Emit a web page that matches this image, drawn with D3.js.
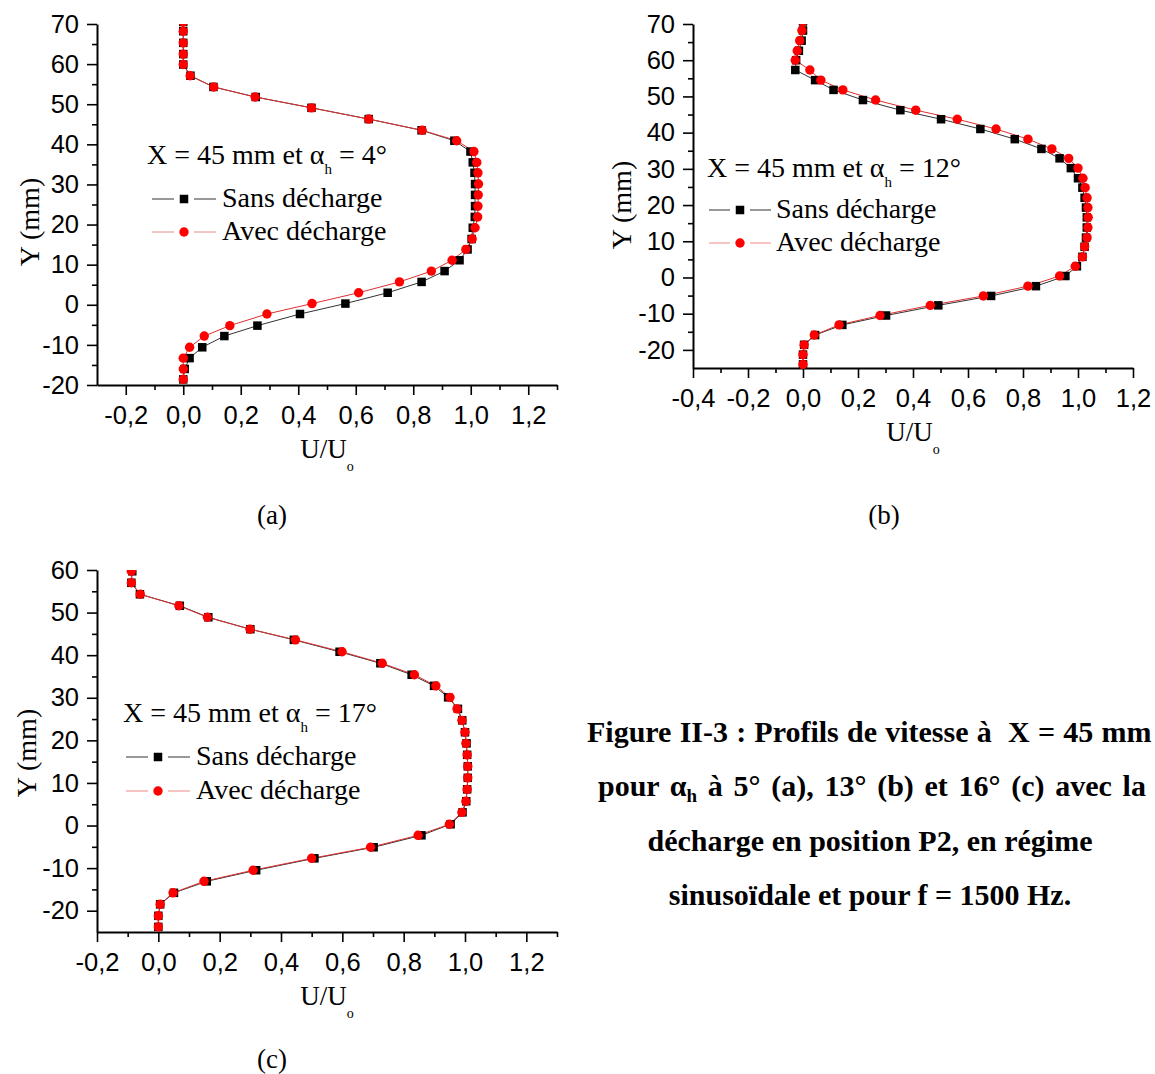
<!DOCTYPE html>
<html><head><meta charset="utf-8">
<script src="https://cdn.jsdelivr.net/npm/d3@7"></script>
<style>html,body{margin:0;padding:0;background:#fff;overflow:hidden}</style>
</head><body>
<svg id="chart" width="1155" height="1074"></svg>
<script>
// ---------- DATA ----------
// Panel (a) : alpha_h = 4°
const yA = [70.5, 68.2, 65.3, 62.5, 59.9, 57.1, 54.3, 51.8, 49.1, 46.3, 43.5, 40.9, 38.2, 35.5, 32.9, 30.1, 27.4, 24.6, 21.9, 19.2, 16.4, 13.8, 11.1, 8.4, 5.7, 3.0, 0.3, -2.3, -5.2, -7.8, -10.6, -13.3, -16.0, -18.6];
const sansA = [0, 0, 0, 0, 0, 0.025, 0.105, 0.252, 0.446, 0.645, 0.829, 0.943, 0.999, 1.007, 1.013, 1.015, 1.015, 1.015, 1.014, 1.007, 1.003, 0.989, 0.961, 0.909, 0.829, 0.711, 0.564, 0.406, 0.258, 0.143, 0.066, 0.022, 0.005, 0];
const avecA = [0, 0, 0, 0, 0, 0.024, 0.106, 0.25, 0.446, 0.645, 0.831, 0.951, 1.011, 1.021, 1.025, 1.027, 1.026, 1.025, 1.024, 1.015, 1.005, 0.983, 0.935, 0.863, 0.752, 0.61, 0.448, 0.291, 0.162, 0.073, 0.022, 0, 0, 0];

// Panel (b) : alpha_h = 12°
const yB = [70.7, 68.2, 65.4, 62.6, 60.0, 57.3, 54.5, 51.8, 49.0, 46.2, 43.7, 41.0, 38.2, 35.5, 32.9, 30.2, 27.4, 24.8, 22.0, 19.3, 16.6, 13.8, 11.0, 8.5, 5.7, 3.1, 0.4, -2.4, -5.1, -7.7, -10.5, -13.1, -15.9, -18.6, -21.3, -24.0];
const sansB = [0.0, 0.0, -0.005, -0.015, -0.025, -0.028, 0.044, 0.111, 0.218, 0.354, 0.502, 0.645, 0.77, 0.867, 0.933, 0.974, 1.0, 1.016, 1.024, 1.029, 1.032, 1.032, 1.029, 1.024, 1.016, 0.996, 0.954, 0.847, 0.684, 0.492, 0.302, 0.143, 0.044, 0.004, 0, 0];
const avecB = [0.0, -0.004, -0.012, -0.021, -0.028, 0.025, 0.065, 0.145, 0.264, 0.41, 0.561, 0.702, 0.818, 0.905, 0.966, 1.0, 1.018, 1.026, 1.033, 1.036, 1.037, 1.036, 1.033, 1.024, 1.016, 0.99, 0.933, 0.818, 0.656, 0.463, 0.28, 0.131, 0.041, 0.004, 0, 0];

// Panel (c) : alpha_h = 17°
const yC = [59.7, 57.0, 54.3, 51.6, 48.9, 46.1, 43.6, 40.8, 38.1, 35.4, 32.8, 30.1, 27.4, 24.7, 21.9, 19.3, 16.6, 13.9, 11.2, 8.5, 5.7, 3.1, 0.3, -2.3, -5.1, -7.7, -10.5, -13.1, -15.8, -18.5, -21.2, -23.8];
const sansC = [-0.085, -0.088, -0.06, 0.07, 0.163, 0.3, 0.442, 0.591, 0.724, 0.826, 0.899, 0.945, 0.977, 0.991, 1.0, 1.005, 1.007, 1.009, 1.009, 1.007, 1.004, 0.992, 0.953, 0.858, 0.702, 0.509, 0.319, 0.158, 0.051, 0.006, 0, 0];
const avecC = [-0.088, -0.088, -0.059, 0.067, 0.16, 0.299, 0.447, 0.599, 0.73, 0.835, 0.905, 0.951, 0.974, 0.99, 1.0, 1.003, 1.007, 1.009, 1.009, 1.007, 1.003, 0.99, 0.949, 0.847, 0.692, 0.5, 0.309, 0.149, 0.048, 0.006, 0, 0];

// Tick labels
const xTicksA = [-0.2, 0, 0.2, 0.4, 0.6, 0.8, 1.0, 1.2];
const xTicksB = [-0.4, -0.2, 0, 0.2, 0.4, 0.6, 0.8, 1.0, 1.2];
const xTicksC = [-0.2, 0, 0.2, 0.4, 0.6, 0.8, 1.0, 1.2];
const yTicksAB = [-20, -10, 0, 10, 20, 30, 40, 50, 60, 70];
const yTicksC = [-20, -10, 0, 10, 20, 30, 40, 50, 60];
const xMinorA = [-0.1, 0.1, 0.3, 0.5, 0.7, 0.9, 1.1, 1.3];
const xMinorB = [-0.3, -0.1, 0.1, 0.3, 0.5, 0.7, 0.9, 1.1];
const xMinorC = [-0.1, 0.1, 0.3, 0.5, 0.7, 0.9, 1.1, 1.3];
const yMinorAB = [-15, -5, 5, 15, 25, 35, 45, 55, 65];
const yMinorC = [-15, -5, 5, 15, 25, 35, 45, 55];

// Texts
const seriesNames = ["Sans décharge", "Avec décharge"];
const alphaValues = ["4°", "12°", "17°"];
const panelLabels = ["(a)", "(b)", "(c)"];
const captionLines = [
  ["Figure II-3 : Profils de vitesse à\u00A0 X = 45 mm"],
  ["pour ", "α", "h", " à 5° (a), 13° (b) et 16° (c) avec la"],
  ["décharge en position P2, en régime"],
  ["sinusoïdale et pour f = 1500 Hz."]
];

// ---------- DRAWING ----------
const svg = d3.select("#chart");
svg.append("rect").attr("width",1155).attr("height",1074).attr("fill","#fff");

const SERIF = "'Liberation Serif','Times New Roman',serif";
const SANS = "'Liberation Sans',Arial,sans-serif";

function fmtX(v){ if (Math.abs(v) < 1e-9) return "0,0"; return (v<0?"-":"") + Math.abs(v).toFixed(1).replace(".", ","); }
function fmtY(v){ return (v<0?"-":"") + Math.abs(v); }

const panels = [
  {Y:yA, sans:sansA, avec:avecA, alpha:alphaValues[0], label:panelLabels[0],
   xDom:[-0.3,1.3], yDom:[-20,70], xr:[97,557], yr:[385,24],
   xT:xTicksA, xM:xMinorA, yT:yTicksAB, yM:yMinorAB,
   leg:{x:147, ty:164, r1:199, r2:232, lx1:152, lx2:216, mx:184, tx:222},
   ylab:{x:29, y:222}, lab:{x:272, y:524}},
  {Y:yB, sans:sansB, avec:avecB, alpha:alphaValues[1], label:panelLabels[1],
   xDom:[-0.4,1.2], yDom:[-25,70], xr:[693,1133], yr:[368,24],
   xT:xTicksB, xM:xMinorB, yT:yTicksAB, yM:yMinorAB,
   leg:{x:707, ty:177, r1:210, r2:243, lx1:709, lx2:771, mx:740, tx:776},
   ylab:{x:621, y:205}, lab:{x:884, y:524}},
  {Y:yC, sans:sansC, avec:avecC, alpha:alphaValues[2], label:panelLabels[2],
   xDom:[-0.2,1.3], yDom:[-25,60], xr:[97,557], yr:[932,570],
   xT:xTicksC, xM:xMinorC, yT:yTicksC, yM:yMinorC,
   leg:{x:123, ty:722, r1:757, r2:791, lx1:126, lx2:190, mx:158, tx:196},
   ylab:{x:26, y:753}, lab:{x:272, y:1068}}
];

panels.forEach((p, i) => {
  const x = d3.scaleLinear().domain(p.xDom).range(p.xr);
  const y = d3.scaleLinear().domain(p.yDom).range(p.yr);
  const g = svg.append("g");
  const clipId = "clip" + i;
  svg.append("clipPath").attr("id", clipId).append("rect")
    .attr("x", p.xr[0] - 15).attr("y", p.yr[1])
    .attr("width", p.xr[1] - p.xr[0] + 30).attr("height", p.yr[0] - p.yr[1] + 12);

  // axes
  const xAxis = d3.axisBottom(x).tickValues(p.xT).tickFormat(fmtX).tickSize(10).tickSizeOuter(0).tickPadding(8);
  const xMinor = d3.axisBottom(x).tickValues(p.xM).tickFormat("").tickSize(5).tickSizeOuter(0);
  const yAxis = d3.axisLeft(y).tickValues(p.yT).tickFormat(fmtY).tickSize(10).tickSizeOuter(0).tickPadding(8);
  const yMinor = d3.axisLeft(y).tickValues(p.yM).tickFormat("").tickSize(5).tickSizeOuter(0);

  const gx = g.append("g").attr("transform", `translate(0,${p.yr[0]})`).call(xAxis);
  g.append("g").attr("transform", `translate(0,${p.yr[0]})`).call(xMinor).select(".domain").remove();
  const gy = g.append("g").attr("transform", `translate(${p.xr[0]},0)`).call(yAxis);
  g.append("g").attr("transform", `translate(${p.xr[0]},0)`).call(yMinor).select(".domain").remove();

  g.selectAll(".domain").attr("stroke", "#000").attr("stroke-width", 2);
  g.selectAll(".tick line").attr("stroke", "#000").attr("stroke-width", 1.6);
  gx.selectAll(".tick text").attr("font-family", SANS).attr("font-size", 25.5).attr("fill", "#000").attr("dy", "0.82em");
  gy.selectAll(".tick text").attr("font-family", SANS).attr("font-size", 25.5).attr("fill", "#000");

  // axis titles
  const xl = g.append("text").attr("x", (p.xr[0] + p.xr[1]) / 2).attr("y", p.yr[0] + 73)
    .attr("text-anchor", "middle").attr("font-family", SERIF).attr("font-size", 27).attr("fill", "#000");
  xl.append("tspan").text("U/U");
  xl.append("tspan").text("o").attr("font-size", 14).attr("dy", 13);

  g.append("text").attr("transform", `translate(${p.ylab.x},${p.ylab.y}) rotate(-90)`)
    .attr("text-anchor", "middle").attr("dy", "0.35em")
    .attr("font-family", SERIF).attr("font-size", 28).attr("fill", "#000").text("Y (mm)");

  // data
  const sansPts = p.Y.map((v, k) => ({y: v, u: p.sans[k]}));
  const avecPts = p.Y.map((v, k) => ({y: v, u: p.avec[k]}));
  const line = d3.line().x(d => x(d.u)).y(d => y(d.y));
  const dg = g.append("g").attr("clip-path", `url(#${clipId})`);
  dg.append("path").datum(sansPts).attr("d", line).attr("fill", "none").attr("stroke", "#333").attr("stroke-width", 1);
  dg.append("path").datum(avecPts).attr("d", line).attr("fill", "none").attr("stroke", "#e03030").attr("stroke-width", 1);
  const s = 8.5;
  dg.selectAll("rect.sq").data(sansPts).enter().append("rect")
    .attr("x", d => x(d.u) - s / 2).attr("y", d => y(d.y) - s / 2)
    .attr("width", s).attr("height", s).attr("fill", "#000");
  dg.selectAll("circle.ci").data(avecPts).enter().append("circle")
    .attr("cx", d => x(d.u)).attr("cy", d => y(d.y)).attr("r", 4.7).attr("fill", "#f00");

  // legend
  const L = p.leg;
  const t = g.append("text").attr("x", L.x).attr("y", L.ty).attr("font-family", SERIF).attr("font-size", 28).attr("fill", "#000");
  t.append("tspan").text("X = 45 mm et α");
  t.append("tspan").text("h").attr("font-size", 15).attr("dy", 10);
  t.append("tspan").text(" = " + p.alpha).attr("dy", -10);

  [[L.r1, "#333", seriesNames[0], "sq"], [L.r2, "#e88", seriesNames[1], "ci"]].forEach(([ry, col, name, m]) => {
    g.append("line").attr("x1", L.lx1).attr("x2", L.mx - 10).attr("y1", ry).attr("y2", ry).attr("stroke", col).attr("stroke-width", 1);
    g.append("line").attr("x1", L.mx + 10).attr("x2", L.lx2).attr("y1", ry).attr("y2", ry).attr("stroke", col).attr("stroke-width", 1);
    if (m === "sq") g.append("rect").attr("x", L.mx - s / 2).attr("y", ry - s / 2).attr("width", s).attr("height", s).attr("fill", "#000");
    else g.append("circle").attr("cx", L.mx).attr("cy", ry).attr("r", 4.7).attr("fill", "#f00");
    g.append("text").attr("x", L.tx).attr("y", ry + 8).attr("font-family", SERIF).attr("font-size", 28).attr("fill", "#000").text(name);
  });

  // panel label
  g.append("text").attr("x", p.lab.x).attr("y", p.lab.y).attr("text-anchor", "middle")
    .attr("font-family", SERIF).attr("font-size", 27).attr("fill", "#000").text(p.label);
});

// caption (first two lines are slightly justified in the source document)
const capY = [742, 796, 851, 905];
const capStart = [587, 598, null, null];
const capWordSpacing = [0.7, 3.2, 0, 0];
captionLines.forEach((parts, i) => {
  const t = svg.append("text").attr("y", capY[i])
    .attr("font-family", SERIF).attr("font-weight", "bold").attr("font-size", 30).attr("fill", "#000")
    .attr("word-spacing", capWordSpacing[i]);
  if (capStart[i] !== null) t.attr("x", capStart[i]).attr("text-anchor", "start");
  else t.attr("x", 870).attr("text-anchor", "middle");
  if (parts.length === 1) { t.text(parts[0]); return; }
  t.append("tspan").text(parts[0]);
  t.append("tspan").text(parts[1]);
  t.append("tspan").text(parts[2]).attr("font-size", 19).attr("dy", 6);
  t.append("tspan").text(parts[3]).attr("dy", -6);
});
</script>
</body></html>
